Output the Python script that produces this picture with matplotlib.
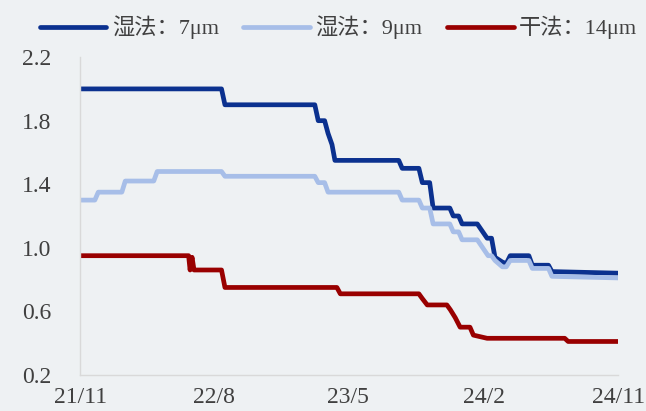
import pandas as pd
import matplotlib.pyplot as plt

# 湿法 7μm
wet7_dates = ["2021-11-01", "2022-08-16", "2022-08-23", "2023-02-22", "2023-03-01",
              "2023-03-14", "2023-03-21", "2023-03-29", "2023-04-04", "2023-08-12",
              "2023-08-19", "2023-09-22", "2023-09-29", "2023-10-14", "2023-10-21",
              "2023-11-24", "2023-12-01", "2023-12-12", "2023-12-19", "2024-01-19",
              "2024-02-08", "2024-02-17", "2024-02-24", "2024-03-10", "2024-03-18",
              "2024-03-26", "2024-05-03", "2024-05-10", "2024-06-12", "2024-06-19",
              "2024-11-01"]
wet7_vals = [2.00, 2.00, 1.90, 1.90, 1.80,
             1.80, 1.72, 1.65, 1.55, 1.55,
             1.50, 1.50, 1.41, 1.41, 1.25,
             1.25, 1.20, 1.20, 1.15, 1.15,
             1.06, 1.06, 0.94, 0.91, 0.90,
             0.95, 0.95, 0.89, 0.89, 0.85,
             0.84]

# 湿法 9μm
wet9_dates = ["2021-11-01", "2021-12-01", "2021-12-08", "2022-01-25", "2022-02-01",
              "2022-03-31", "2022-04-07", "2022-08-16", "2022-08-23", "2023-02-22",
              "2023-03-01", "2023-03-14", "2023-03-21", "2023-08-12", "2023-08-19",
              "2023-09-22", "2023-09-29", "2023-10-14", "2023-10-21", "2023-11-24",
              "2023-12-01", "2023-12-12", "2023-12-19", "2024-01-19", "2024-02-10",
              "2024-02-17", "2024-02-24", "2024-03-10", "2024-03-18", "2024-03-26",
              "2024-05-03", "2024-05-10", "2024-06-12", "2024-06-19", "2024-11-01"]
wet9_vals = [1.30, 1.30, 1.35, 1.35, 1.42,
             1.42, 1.48, 1.48, 1.45, 1.45,
             1.41, 1.41, 1.35, 1.35, 1.30,
             1.30, 1.25, 1.25, 1.15, 1.15,
             1.10, 1.10, 1.05, 1.05, 0.95,
             0.95, 0.92, 0.88, 0.88, 0.92,
             0.92, 0.87, 0.87, 0.82, 0.81]

# 干法 14μm
dry14_dates = ["2021-11-01", "2022-06-10", "2022-06-13", "2022-06-17", "2022-06-21",
               "2022-08-16", "2022-08-23", "2023-04-08", "2023-04-15", "2023-09-22",
               "2023-09-29", "2023-10-09", "2023-11-18", "2023-11-25", "2023-12-05",
               "2023-12-15", "2024-01-04", "2024-01-11", "2024-02-08", "2024-07-15",
               "2024-07-22", "2024-11-01"]
dry14_vals = [0.95, 0.95, 0.86, 0.94, 0.86,
              0.86, 0.75, 0.75, 0.71, 0.71,
              0.68, 0.64, 0.64, 0.61, 0.56,
              0.50, 0.50, 0.45, 0.43, 0.43,
              0.41, 0.41]

labels = ["湿法：7μm", "湿法：9μm", "干法：14μm"]
colors = ["#0B318F", "#A7BEE8", "#990000"]
xticks = ["2021-11-01", "2022-08-01", "2023-05-01", "2024-02-01", "2024-11-01"]
xtick_labels = ["21/11", "22/8", "23/5", "24/2", "24/11"]
yticks = [0.2, 0.6, 1.0, 1.4, 1.8, 2.2]

plt.rcParams['font.family'] = ['Liberation Serif', 'Noto Sans CJK SC']
bg = "#EEF1F3"

fig = plt.figure(figsize=(6.46, 4.11), dpi=100, facecolor=bg)
ax = fig.add_axes([0.124, 0.088, 0.833, 0.773], facecolor=bg)

series = [(wet7_dates, wet7_vals), (wet9_dates, wet9_vals), (dry14_dates, dry14_vals)]
for (d, v), lab, c in zip(series, labels, colors):
    ax.plot(pd.to_datetime(d), v, color=c, lw=3.4, label=lab,
            solid_capstyle='round', solid_joinstyle='round')

ax.set_ylim(0.2, 2.2)
ax.set_yticks(yticks)
ax.set_yticklabels([f"{t:.1f}" for t in yticks])
ax.set_xlim(pd.Timestamp("2021-11-01"), pd.Timestamp("2024-11-01"))
ax.set_xticks(pd.to_datetime(xticks))
ax.set_xticklabels(xtick_labels)

for s in ["top", "right"]:
    ax.spines[s].set_visible(False)
for s in ["left", "bottom"]:
    ax.spines[s].set_color("#D9D9D9")
    ax.spines[s].set_linewidth(1.0)
ax.tick_params(length=0, labelsize=17, colors="#404040")
ax.tick_params(axis='y', pad=21)
ax.tick_params(axis='x', pad=9)

ax.legend(loc='center', bbox_to_anchor=(0.48, 1.093), ncol=3, frameon=False,
          fontsize=16, handlelength=3.0, handletextpad=0.25, columnspacing=1.1,
          labelcolor="#404040")

fig.savefig("out.png", dpi=100, facecolor=bg)
